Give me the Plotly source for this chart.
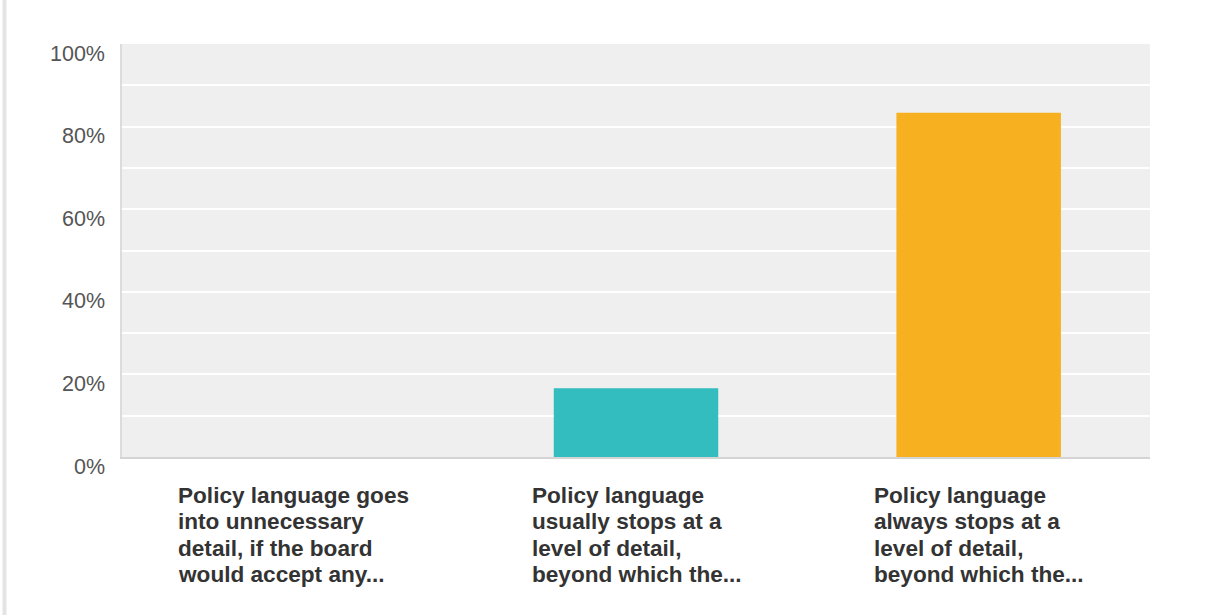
import plotly.graph_objects as go

categories = [
    ["Policy language goes", "into unnecessary", "detail, if the board", "would accept any..."],
    ["Policy language", "usually stops at a", "level of detail,", "beyond which the..."],
    ["Policy language", "always stops at a", "level of detail,", "beyond which the..."],
]
values = [0.0, 0.1667, 0.8333]
bar_colors = ["#62b1e0", "#33bdbf", "#f7b01f"]
grid_vals = [0.1, 0.2, 0.3, 0.4, 0.5, 0.6, 0.7, 0.8, 0.9, 1.0]
label_vals = [0, 0.2, 0.4, 0.6, 0.8, 1.0]
label_text = ["0%", "20%", "40%", "60%", "80%", "100%"]

label_xshift = [-117, -106, -107]

fig = go.Figure()
fig.add_trace(go.Bar(
    x=[0, 1, 2], y=values,
    marker=dict(color=bar_colors, line=dict(width=0)),
    width=0.48,
    hoverinfo="skip",
))

for i, lines in enumerate(categories):
    for k, line in enumerate(lines):
        fig.add_annotation(
            x=i, y=0, xref="x", yref="y",
            text="<b>" + line + "</b>", showarrow=False,
            xanchor="left", yanchor="middle", align="left",
            xshift=label_xshift[i], yshift=-38.5 - k * 26.3,
            font=dict(family="Liberation Sans, Arial, sans-serif", size=22.6, color="#333333"),
        )

for v, t in zip(label_vals, label_text):
    fig.add_annotation(
        x=0, y=v, xref="paper", yref="y",
        text=t, showarrow=False,
        xanchor="right", yanchor="middle", xshift=-15, yshift=-9.5,
        font=dict(family="Liberation Sans, Arial, sans-serif", size=21.5, color="#555555"),
    )

fig.add_shape(type="line", xref="paper", yref="paper",
              x0=-0.1143, x1=-0.1143, y0=-0.4, y1=1.12,
              line=dict(color="#e4e4e4", width=4))

fig.update_layout(
    width=1207, height=615,
    margin=dict(l=122, r=57, t=44, b=158),
    paper_bgcolor="white",
    plot_bgcolor="#efefef",
    showlegend=False,
    xaxis=dict(range=[-0.5, 2.5], showticklabels=False, showgrid=False,
               zeroline=False, showline=True, linecolor="#d4d4d4", linewidth=2,
               fixedrange=True),
    yaxis=dict(range=[0, 1.0], tickvals=grid_vals, showticklabels=False,
               showgrid=True, gridcolor="white", gridwidth=2,
               zeroline=False, showline=True, linecolor="#dcdcdc", linewidth=2,
               ticks="", fixedrange=True),
)

fig.write_html("out.html")
